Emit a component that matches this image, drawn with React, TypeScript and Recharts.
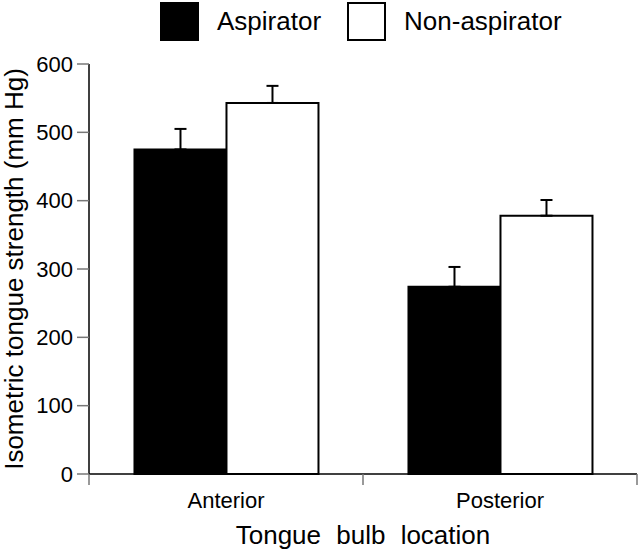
import React from "react";
import {
  BarChart,
  Bar,
  XAxis,
  YAxis,
  ErrorBar,
  Legend,
  Label,
} from "recharts";

// values (mm Hg)
const locations = ["Anterior", "Posterior"];
const aspirator = [475, 274];
const aspiratorSem = [30, 29];
const nonAspirator = [543, 378];
const nonAspiratorSem = [25, 23];
const yTicks = [0, 100, 200, 300, 400, 500, 600];
// bottom axis runs 0..1; boundaries at 0, .5, 1 and group names at .25, .75
const edgeTicks = [0, 0.25, 0.5, 0.75, 1];

const FONT = "'Liberation Sans', Arial, sans-serif";

const data = locations.map((loc, i) => ({
  location: loc,
  aspirator: aspirator[i],
  aspErr: [0, aspiratorSem[i]],
  nonAspirator: nonAspirator[i],
  nonErr: [0, nonAspiratorSem[i]],
}));

const BottomTick = (props: any) => {
  const { x, y, payload } = props;
  const v = payload.value * locations.length;
  if (Number.isInteger(v)) {
    return <line x1={x} x2={x} y1={y} y2={y + 11} stroke="#777" strokeWidth={1.5} />;
  }
  return (
    <text x={x} y={y + 34} textAnchor="middle" fontSize={22} fill="#000" fontFamily={FONT}>
      {locations[Math.floor(v)]}
    </text>
  );
};

const LegendBox = (props: any) => {
  const items = props.payload || [];
  return (
    <div style={{ display: "flex", alignItems: "center", paddingLeft: 160, paddingTop: 2, fontFamily: FONT }}>
      {items.map((it: any, i: number) => (
        <div key={i} style={{ display: "flex", alignItems: "center", marginRight: 26 }}>
          <div
            style={{
              width: 35,
              height: 35,
              background: it.color,
              border: "2px solid #000",
              marginRight: 18,
            }}
          />
          <span style={{ fontSize: 26, color: "#000", lineHeight: "39px" }}>{it.value}</span>
        </div>
      ))}
    </div>
  );
};

export default function App() {
  return (
    <div style={{ position: "absolute", left: 0, top: 0, background: "#fff" }}>
      <BarChart
        width={640}
        height={553}
        data={data}
        margin={{ top: 64, right: 3, left: 0, bottom: 0 }}
        barCategoryGap="16.6%"
        barGap={0}
        style={{ fontFamily: FONT }}
      >
        <XAxis xAxisId="cat" dataKey="location" hide height={0} />
        <XAxis
          xAxisId="edge"
          type="number"
          domain={[0, 1]}
          allowDataOverflow
          ticks={edgeTicks}
          interval={0}
          height={79}
          tickSize={0}
          tickMargin={0}
          tickLine={false}
          tick={<BottomTick />}
          axisLine={{ stroke: "#000", strokeWidth: 1.5 }}
        >
          <Label
            value="Tongue bulb location"
            position="insideBottom"
            offset={9}
            fontSize={26}
            fill="#000"
            style={{ wordSpacing: "8px" }}
          />
        </XAxis>
        <YAxis
          domain={[0, 600]}
          ticks={yTicks}
          interval={0}
          width={89}
          tickSize={12}
          tickMargin={4}
          tick={{ fontSize: 22, fill: "#000" }}
          tickLine={{ stroke: "#777", strokeWidth: 1.5 }}
          axisLine={{ stroke: "#000", strokeWidth: 1.5 }}
        >
          <Label
            content={(p: any) => {
              const vb = p.viewBox || { y: 64, height: 410 };
              const cy = vb.y + vb.height / 2;
              return (
                <text
                  x={23}
                  y={cy}
                  transform={`rotate(-90, 23, ${cy})`}
                  textAnchor="middle"
                  fontSize={26}
                  fill="#000"
                  fontFamily={FONT}
                >
                  Isometric tongue strength (mm Hg)
                </text>
              );
            }}
          />
        </YAxis>
        <Legend
          verticalAlign="middle"
          align="center"
          wrapperStyle={{ top: 0, left: 0, width: 640 }}
          content={<LegendBox />}
        />
        <Bar
          xAxisId="cat"
          dataKey="aspirator"
          name="Aspirator"
          fill="#000"
          stroke="#000"
          strokeWidth={2}
          isAnimationActive={false}
        >
          <ErrorBar dataKey="aspErr" direction="y" width={6} stroke="#000" strokeWidth={2} />
        </Bar>
        <Bar
          xAxisId="cat"
          dataKey="nonAspirator"
          name="Non-aspirator"
          fill="#fff"
          stroke="#000"
          strokeWidth={2}
          isAnimationActive={false}
        >
          <ErrorBar dataKey="nonErr" direction="y" width={6} stroke="#000" strokeWidth={2} />
        </Bar>
      </BarChart>
    </div>
  );
}
